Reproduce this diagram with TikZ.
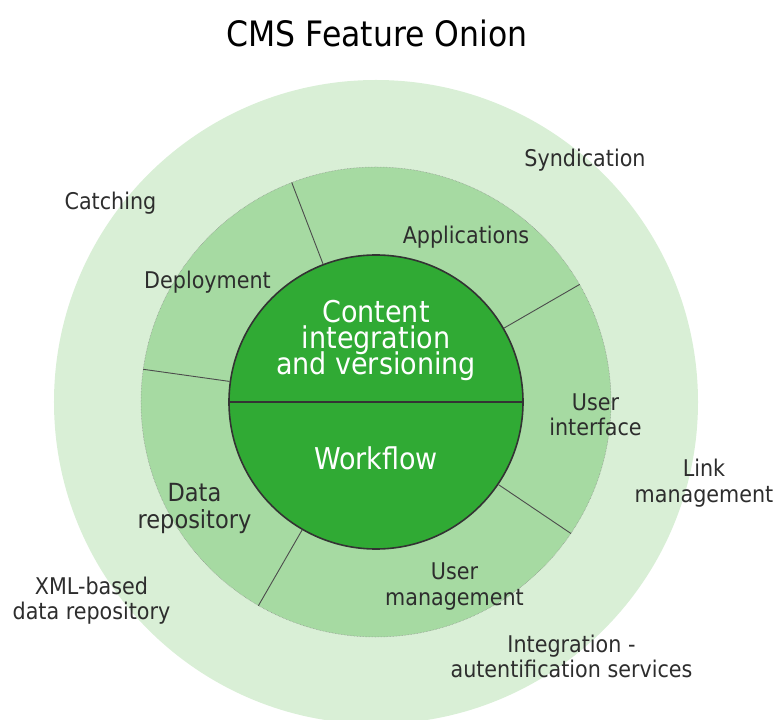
\documentclass[tikz,border=0pt]{standalone}
\usepackage{fontspec}
\setmainfont{DejaVu Sans Condensed}
\definecolor{skin}{RGB}{217,239,214}
\definecolor{flesh}{RGB}{166,218,162}
\definecolor{corefill}{RGB}{48,170,52}
\definecolor{inkgray}{RGB}{45,45,45}
% keep the fixed leading even where descenders meet ascenders
\protected\def\snugleading{\lineskiplimit=-100pt\relax}
\tikzset{
  layer/.style     = {circle, inner sep=0pt},
  skinlayer/.style = {layer, fill=skin, minimum size=644pt},
  ringlayer/.style = {layer, fill=flesh, draw=black!45, densely dotted,
                      line width=0.5pt, minimum size=470pt},
  corelayer/.style = {layer, fill=corefill, draw=black!80, line width=1.6pt,
                      minimum size=294pt},
  spoke/.style     = {draw=black!70, line width=0.9pt},
  cut/.style       = {draw=black!80, line width=1.6pt},
  % Labels: tight leading so two-line labels stay compact.
  lbl/.style       = {inner sep=0pt, align=center, text=inkgray,
                      font=\fontsize{23}{25.5}\selectfont},
  corelbl/.style   = {lbl, text=white,
                      font=\fontsize{30}{26}\selectfont\snugleading},
}

\begin{document}
\begin{tikzpicture}[x=1pt, y=1pt]
    \useasboundingbox (-376,-317) rectangle (399,402);

    \node[skinlayer] (skin) at (0,0) {};
    \node[ringlayer] (ring) at (0,0) {};
    \node[corelayer] (core) at (0,0) {};

    \foreach \a in {111,30,172,-34,240}
      \draw[spoke] (core.\a) -- (ring.\a);
    \draw[cut] (core.west) -- (core.east);

    \node[lbl, text=black, font=\fontsize{35}{40}\selectfont] (title) at (1,369) {CMS Feature Onion};

    \node[corelbl] (content)  at (0,62)   {Content\\integration\\and versioning};
    \node[corelbl] (workflow) at (0,-56.5) {Workflow};

    \node[lbl] (apps)   at (90,165)      {Applications};
    \node[lbl] (deploy) at (-168.5,120)  {Deployment};
    \node[lbl] (ui)     at (219.5,-13)   {User\\interface};
    \node[lbl, font=\fontsize{25}{27.5}\selectfont] (datarep) at (-181.5,-106.5) {Data\\repository};
    \node[lbl] (userman) at (78.5,-184.5) {User\\management};

    \node[lbl] (catch)  at (-265.5,198.5) {Catching};
    \node[lbl] (synd)   at (209,242)      {Syndication};
    \node[lbl] (links)  at (328,-81)      {Link\\management};
    \node[lbl] (xmlrep) at (-284.5,-198.5) {XML-based\\data repository};
    \node[lbl] (auth)   at (195.5,-254.5) {Integration -\\autentification services};
  \end{tikzpicture}
\end{document}
